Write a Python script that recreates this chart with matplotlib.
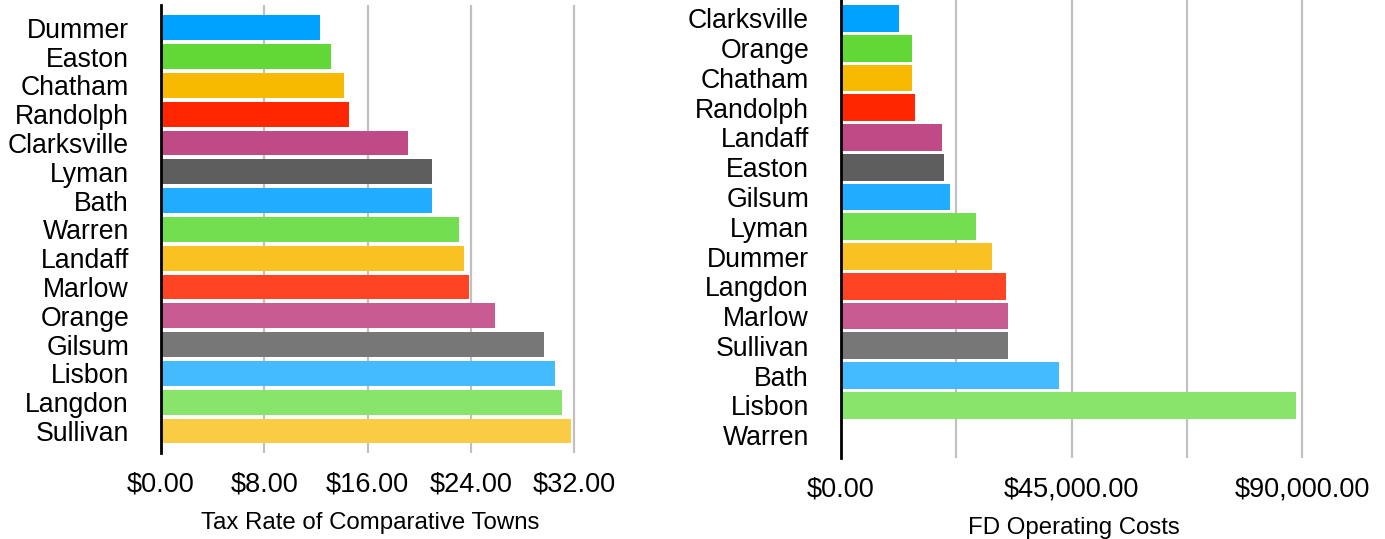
import matplotlib
matplotlib.use("Agg")
import matplotlib.pyplot as plt
from matplotlib.ticker import FuncFormatter

plt.rcParams['font.family'] = ['Liberation Sans', 'DejaVu Sans']

# Tax rate chart
tax_towns = ['Dummer', 'Easton', 'Chatham', 'Randolph', 'Clarksville', 'Lyman', 'Bath',
             'Warren', 'Landaff', 'Marlow', 'Orange', 'Gilsum', 'Lisbon', 'Langdon', 'Sullivan']
tax_rates = [12.3, 13.2, 14.2, 14.6, 19.1, 21.0, 21.0, 23.1, 23.5, 23.9, 25.9, 29.7, 30.5, 31.1, 31.8]

# FD operating costs chart
fd_towns = ['Clarksville', 'Orange', 'Chatham', 'Randolph', 'Landaff', 'Easton', 'Gilsum',
            'Lyman', 'Dummer', 'Langdon', 'Marlow', 'Sullivan', 'Bath', 'Lisbon', 'Warren']
fd_costs = [11270, 13800, 13800, 14400, 19660, 20050, 21200, 26300, 29400, 32150,
            32550, 32550, 42500, 88770, 0]

colores = ['#00A2FF', '#61D836', '#F8BA00', '#FF2600', '#C04A86', '#5E5E5E', '#20ADFF',
           '#73DE4F', '#F9C222', '#FF4424', '#C95B93', '#777777', '#44BBFF', '#88E46A', '#F9CC44']

fig = plt.figure(figsize=(13.85, 5.39), dpi=100)

W, H = 1385, 539
ax1 = fig.add_axes([161 / W, (539 - 453) / H, (574 - 161) * 32.4 / 32 / W, 448 / H])
ax2 = fig.add_axes([841 / W, (539 - 458) / H, (1302 - 841) * 91000 / 90000 / W, 458 / H])


def estilo(ax):
    for s in ['top', 'right', 'bottom']:
        ax.spines[s].set_visible(False)
    ax.spines['left'].set_linewidth(2)
    ax.spines['left'].set_color('black')
    ax.spines['left'].set_zorder(5)
    ax.grid(True, axis='x', color='#C0C0C0', linewidth=1.6)
    ax.set_axisbelow(True)
    ax.tick_params(axis='y', length=0, pad=23, labelsize=19.2)
    ax.tick_params(axis='x', length=0, pad=13, labelsize=19.5)


# Grafico 1
ax1.barh(range(len(tax_towns)), tax_rates, height=0.86, color=colores)
ax1.set_yticks(range(len(tax_towns)))
ax1.set_yticklabels(tax_towns)
ax1.set_ylim(14.76, -0.79)
ax1.set_xlim(0, 32.4)
ax1.set_xticks([0, 8, 16, 24, 32])
ax1.xaxis.set_major_formatter(FuncFormatter(lambda v, p: '${:,.2f}'.format(v)))
estilo(ax1)
ax1.set_xlabel('Tax Rate of Comparative Towns', fontsize=17.3, labelpad=11)

# Grafico 2
ax2.barh(range(len(fd_towns)), fd_costs, height=0.9, color=colores[:len(fd_towns)])
ax2.set_yticks(range(len(fd_towns)))
ax2.set_yticklabels(fd_towns)
ax2.set_ylim(14.77, -0.62)
ax2.set_xlim(0, 91000)
ax2.set_xticks([0, 22500, 45000, 67500, 90000])
ax2.set_xticklabels(['$0.00', '', '$45,000.00', '', '$90,000.00'])
estilo(ax2)
ax2.set_xlabel('FD Operating Costs', fontsize=17.3, labelpad=11)

plt.savefig('out.png', dpi=100)
